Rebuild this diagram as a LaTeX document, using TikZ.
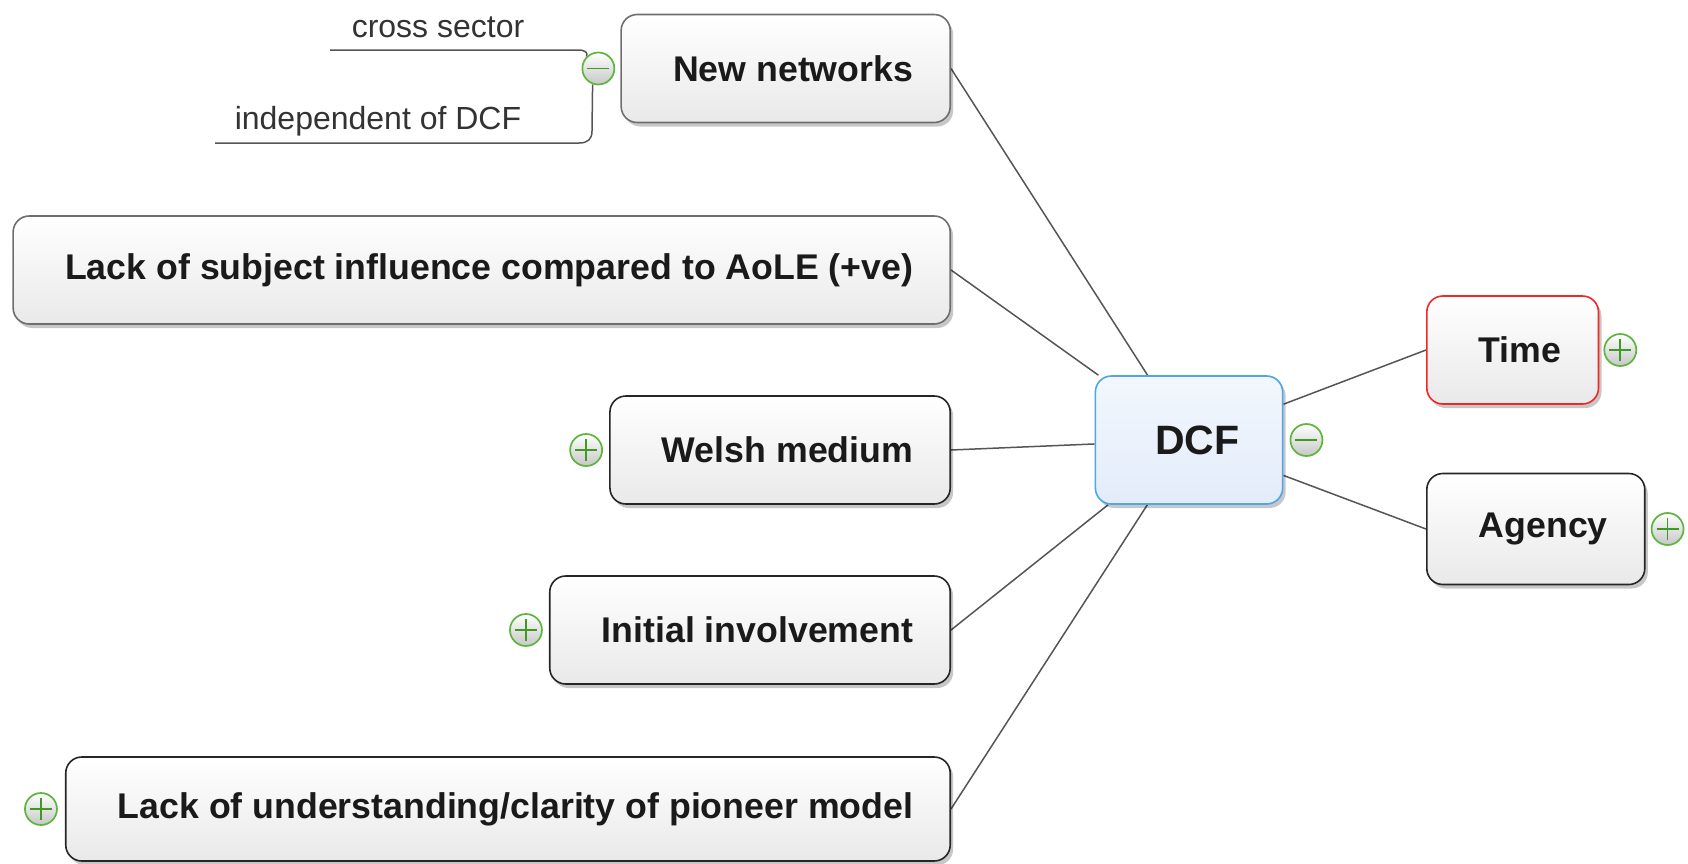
\documentclass[tikz,border=0pt]{standalone}
\usepackage{fontspec}
\setmainfont{Liberation Sans}
\usetikzlibrary{shadows,backgrounds}
\definecolor{boxdark}{HTML}{262626}
\definecolor{boxgray}{HTML}{6E6E6E}
\definecolor{boxbot}{HTML}{E9E9E9}
\definecolor{txtdark}{HTML}{1A1A1A}
\definecolor{dcfblue}{HTML}{4DA6E8}
\definecolor{dcftop}{HTML}{F3F7FD}
\definecolor{dcfbot}{HTML}{E2ECF9}
\definecolor{timered}{HTML}{F02828}
\definecolor{pmgreen}{HTML}{5DB53C}
\definecolor{pmsign}{HTML}{3E9A22}
\definecolor{linegray}{HTML}{555555}
\definecolor{smalltxt}{HTML}{333333}
\begin{document}
\begin{tikzpicture}[x=1pt,y=-1pt,
  box/.style={draw=boxdark, line width=1.6pt, rounded corners=16pt,
    top color=white, bottom color=boxbot, minimum height=108pt,
    inner xsep=37pt, inner ysep=0pt, text=txtdark,
    font=\fontsize{35.7}{42}\selectfont\bfseries,
    drop shadow={shadow xshift=3pt, shadow yshift=-4pt, opacity=0.22, fill=black}},
  graybox/.style={box, draw=boxgray},
  dcfbox/.style={box, draw=dcfblue, top color=dcftop, bottom color=dcfbot,
    inner xsep=43pt, minimum height=128pt, font=\fontsize{41}{48}\selectfont\bfseries},
  redbox/.style={box, draw=timered},
  pm/.style={circle, draw=pmgreen, line width=1.7pt, minimum size=32pt, inner sep=0pt,
    top color=white, bottom color=black!22},
  minussign/.style={pm, path picture={
    \draw[pmsign, line width=1.7pt] ([xshift=-11pt]path picture bounding box.center) -- ([xshift=11pt]path picture bounding box.center);}},
  plussign/.style={pm, path picture={
    \draw[pmsign, line width=1.7pt] ([xshift=-11pt]path picture bounding box.center) -- ([xshift=11pt]path picture bounding box.center);
    \draw[pmsign, line width=1.7pt] ([yshift=-11pt]path picture bounding box.center) -- ([yshift=11pt]path picture bounding box.center);}},
  conn/.style={draw=linegray, line width=1.5pt},
  small/.style={text=smalltxt, font=\fontsize{32}{38}\selectfont, inner sep=0pt}
]
\useasboundingbox (0,0) rectangle (1688,863);

% boxes
\node[graybox, anchor=east] (nn) at (951,68.5) {\hspace*{15pt}New networks};
\node[graybox, anchor=east] (lsub) at (951,270) {\hspace*{15pt}Lack of subject influence compared to AoLE (+ve)};
\node[box, anchor=east] (wm) at (951,450) {\hspace*{15pt}Welsh medium};
\node[box, anchor=east] (ii) at (951,630) {\hspace*{15pt}Initial involvement};
\node[box, anchor=east, minimum height=104pt] (lu) at (951,809) {\hspace*{15pt}Lack of understanding/clarity of pioneer model};
\node[dcfbox] (dcf) at (1189,440) {\hspace*{17pt}DCF};
\node[redbox, anchor=west] (time) at (1426,350) {\hspace*{15pt}Time};
\node[box, anchor=west, minimum height=111pt] (ag) at (1426,529) {\hspace*{15pt}Agency};

% expand / collapse buttons
\node[minussign] (nnm) at ([xshift=-22pt]nn.west) {};
\node[plussign] (wmp) at ([xshift=-23pt]wm.west) {};
\node[plussign] (iip) at ([xshift=-23pt]ii.west) {};
\node[plussign] (lup) at ([xshift=-24pt]lu.west) {};
\node[minussign] (dcfm) at ([xshift=23pt]dcf.east) {};
\node[plussign] (timep) at ([xshift=21pt]time.east) {};
\node[plussign] (agp) at ([xshift=22pt]ag.east) {};

% small subtopics of New networks
\node[small] (cst) at (438,27) {cross sector};
\node[small] (idt) at (378,121) {independent of DCF};
\coordinate (csa) at (330,50);
\coordinate (csb) at (578,50);
\coordinate (ida) at (215,143);
\coordinate (idb) at (579,143);
\coordinate (idc) at (592,131);

\begin{scope}[on background layer]
  \draw[conn] (dcf) -- (nn.east);
  \draw[conn] (dcf) -- (lsub.east);
  \draw[conn] (dcf) -- (wm.east);
  \draw[conn] (dcf) -- (ii.east);
  \draw[conn] (dcf) -- (lu.east);
  \draw[conn] (dcf) -- (time.west);
  \draw[conn] (dcf) -- (ag.west);
  \draw[conn] (csa) -- (csb) .. controls (586,50) and (588,53) .. (nnm.135);
  \draw[conn] (ida) -- (idb) .. controls (588,143) and (592,139) .. (idc) -- (nnm.250);
\end{scope}
\end{tikzpicture}
\end{document}
